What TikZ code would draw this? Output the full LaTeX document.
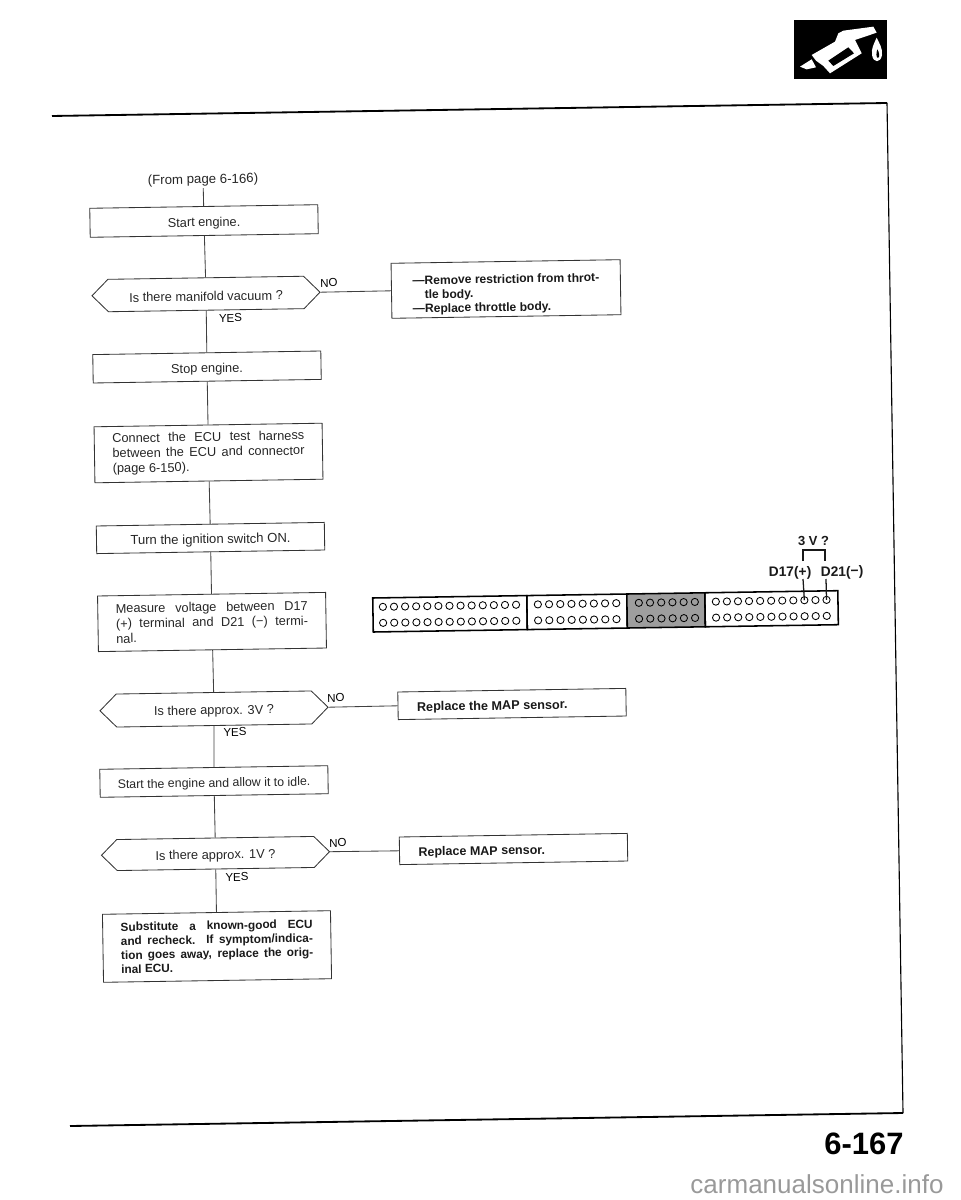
\documentclass[tikz,border=0pt]{standalone}
\usepackage{fontspec}
\setmainfont{Liberation Sans}
\usetikzlibrary{positioning,shapes.symbols}
\newcommand{\jline}[1]{\makebox[4.8cm][s]{#1}}
\begin{document}
\begin{tikzpicture}[
  x=0.025cm, y=-0.025cm,
  every node/.append style={rotate=0.9},
  txt/.style={font=\fontsize{9.1}{10.7}\selectfont, text=black!85, execute at begin node={\rule{0pt}{10pt}}},
  btxt/.style={font=\fontsize{8.6}{10}\selectfont\bfseries, text=black!90, execute at begin node={\rule{0pt}{10pt}}},
  box/.style={draw=black!80, line width=0.6pt, minimum width=5.7cm, inner sep=1pt, align=center, txt},
  hex/.style={draw=black!80, line width=0.6pt, signal, signal to=west and east, signal pointer angle=90, minimum width=5.7cm, inner sep=1pt, txt},
  lab/.style={inner sep=0pt, font=\fontsize{8.2}{10}\selectfont},
  link/.style={line width=0.6pt, draw=black!75},
  wire/.style={line width=0.9pt, draw=black!90},
  frame/.style={line width=1.3pt},
  cell/.style={draw, line width=1.1pt, minimum height=0.85cm, inner sep=0pt, outer sep=0pt},
  pin/.style={circle, draw, line width=0.6pt, minimum size=0.18cm, inner sep=0pt}
]
  \useasboundingbox (0,0) rectangle (960,1200);

  % page frame
  \coordinate (frameTL) at (52,116);
  \coordinate (frameTR) at (887,103);
  \coordinate (frameBR) at (903,1113);
  \coordinate (frameBL) at (70,1126);
  \draw[frame] (frameTL) -- (frameTR);
  \draw[line width=0.8pt] (frameTR) -- (frameBR);
  \draw[frame] (frameBR) -- (frameBL);

  % nozzle emblem
  \fill (794,20) -- (887,20) -- (887,79) -- (794,79) -- cycle;
  \begin{scope}[shift={(780,0)}, x=0.00833cm, y=-0.00833cm]
    \fill[white] (60,200) -- (95,178) -- (108,202) -- (80,208) -- cycle;
    \fill[white] (95,165) -- (165,125) -- (175,100) -- (190,92) -- (280,80) -- (290,98) -- (225,120) -- (245,160) -- (150,220) -- (130,198) -- (108,182) -- cycle;
    \fill (145,182) -- (205,142) -- (222,160) -- (160,198) -- cycle;
    \fill[white] (290,113) .. controls (280,135) and (274,145) .. (276,165) .. controls (280,190) and (302,190) .. (306,165) .. controls (308,145) and (298,130) .. (290,113) -- cycle;
    \fill (292,148) .. controls (288,160) and (288,172) .. (294,174) .. controls (300,170) and (298,158) .. (292,148) -- cycle;
  \end{scope}

  % flow, left column
  \node[txt, inner sep=1pt, font=\fontsize{9.4}{10.7}\selectfont] (from) at (203,178) {(From page 6-166)};
  \node[box, minimum height=0.725cm] (start) at (204,221) {Start engine.};
  \node[hex, minimum height=0.81cm] (vacuum) at (206,294) {Is there manifold vacuum ?};
  \node[box, minimum height=0.71cm] (stop) at (207,367) {Stop engine.};
  \node[box, minimum height=1.4cm] (harness) at (208.5,453) {\jline{Connect the ECU test harness}\\\jline{between the ECU and connector}\\\makebox[4.8cm][l]{(page 6-150).}};
  \node[box, minimum height=0.69cm, font=\fontsize{9.3}{10.7}\selectfont] (ignition) at (210.5,538) {Turn the ignition switch ON.};
  \node[box, minimum height=1.39cm] (measure) at (212,622) {\jline{Measure voltage between D17}\\\jline{(+) terminal and D21 (−) termi-}\\\makebox[4.8cm][l]{nal.}};
  \node[hex, minimum height=0.825cm] (threev) at (214,709) {Is there approx. 3V ?};
  \node[box, minimum height=0.7cm, font=\fontsize{8.8}{10.7}\selectfont] (idle) at (214,781.5) {Start the engine and allow it to idle.};
  \node[hex, minimum height=0.775cm] (onev) at (215.5,853.5) {Is there approx. 1V ?};
  \node[box, minimum height=1.7cm, btxt, font=\fontsize{8.4}{10}\selectfont\bfseries] (ecu) at (217,946.5) {\jline{Substitute a known-good ECU}\\\jline{and recheck. If symptom/indica-}\\\jline{tion goes away, replace the orig-}\\\makebox[4.8cm][l]{inal ECU.}};

  % flow, right column
  \node[box, minimum width=5.725cm, minimum height=1.375cm, btxt, align=left] (throttle) at (506,289) {\rule{0pt}{13.5pt}—Remove restriction from throt-\\\hspace{0.3cm}tle body.\\—Replace throttle body.};
  \node[box, minimum height=0.69cm, btxt, font=\fontsize{9}{10}\selectfont\bfseries, align=left] (mapa) at (512,704) {\makebox[4.75cm][l]{Replace the MAP sensor.}};
  \node[box, minimum height=0.69cm, btxt, font=\fontsize{8.9}{10}\selectfont\bfseries, align=left] (mapb) at (513.5,849) {\makebox[4.75cm][l]{Replace MAP sensor.}};

  \draw[link] (from) -- (start);
  \draw[link] (start) -- (vacuum);
  \draw[link] (vacuum) -- (stop);
  \draw[link] (stop) -- (harness);
  \draw[link] (harness) -- (ignition);
  \draw[link] (ignition) -- (measure);
  \draw[link] (measure) -- (threev);
  \draw[link] (threev) -- (idle);
  \draw[link] (idle) -- (onev);
  \draw[link] (onev) -- (ecu);
  \draw[link] (vacuum.east) -- (throttle.west);
  \draw[link] (threev.east) -- (mapa.west);
  \draw[link] (onev.east) -- (mapb.west);

  \node[lab] (no1) at (329,283) {NO};
  \node[lab] (yes1) at (230.5,318) {YES};
  \node[lab] (no2) at (336,698) {NO};
  \node[lab] (yes2) at (235,732) {YES};
  \node[lab] (no3) at (338,843) {NO};
  \node[lab] (yes3) at (237,877) {YES};

  % connector
  \node[cell, minimum width=3.85cm, anchor=west] (blocka) at (373,615) {};
  \node[cell, minimum width=2.5cm, right=0pt of blocka] (blockb) {};
  \node[cell, minimum width=1.95cm, right=0pt of blockb, fill=black!38] (blockc) {};
  \node[cell, minimum width=3.325cm, right=0pt of blockc] (blockd) {};
  \begin{scope}[shift={(373,615)}, rotate=0.9]
    \foreach \i in {0,...,12} {
      \node[pin] (a\i) at ({10+11.1*\i},-8) {};
      \node[pin] at ({10+11.1*\i},8) {};
    }
    \foreach \i in {0,...,7} {
      \node[pin] at ({165+11.2*\i},-8) {};
      \node[pin] at ({165+11.2*\i},8) {};
    }
    \foreach \i in {0,...,5} {
      \node[pin] at ({266+11.2*\i},-8) {};
      \node[pin] at ({266+11.2*\i},8) {};
    }
    \foreach \i in {0,...,10} {
      \node[pin] (d\i) at ({343+11.07*\i},-8) {};
      \node[pin] at ({343+11.07*\i},8) {};
    }
  \end{scope}

  % test points
  \node[btxt, font=\fontsize{9.3}{10}\selectfont\bfseries, inner sep=0pt] (volts) at (813.5,538.5) {3 V ?};
  \node[btxt, font=\fontsize{9.8}{10}\selectfont\bfseries, inner sep=0pt] (dplus) at (790,571) {D17(+)};
  \node[btxt, font=\fontsize{9.8}{10}\selectfont\bfseries, inner sep=0pt] (dminus) at (842,570.5) {D21(−)};
  \coordinate (wirel) at (803,579);
  \coordinate (wirer) at (826,579);
  \coordinate (brl) at (803,561);
  \coordinate (brtop) at (825,550);
  \coordinate (brr) at (825,561);
  \draw[wire] (d8.center) -- (wirel);
  \draw[wire] (d10.center) -- (wirer);
  \draw[wire] (brl) |- (brtop) -- (brr);

  % page number and mark
  \node[inner sep=0pt, rotate=-0.9, font=\fontsize{22}{24}\selectfont\bfseries] (pagenum) at (864,1143.5) {6-167};
  \node[inner sep=0pt, text=black!40, rotate=-0.9, font=\fontsize{18.5}{20}\selectfont] (mark) at (817,1184) {carmanualsonline.info};
\end{tikzpicture}
\end{document}
